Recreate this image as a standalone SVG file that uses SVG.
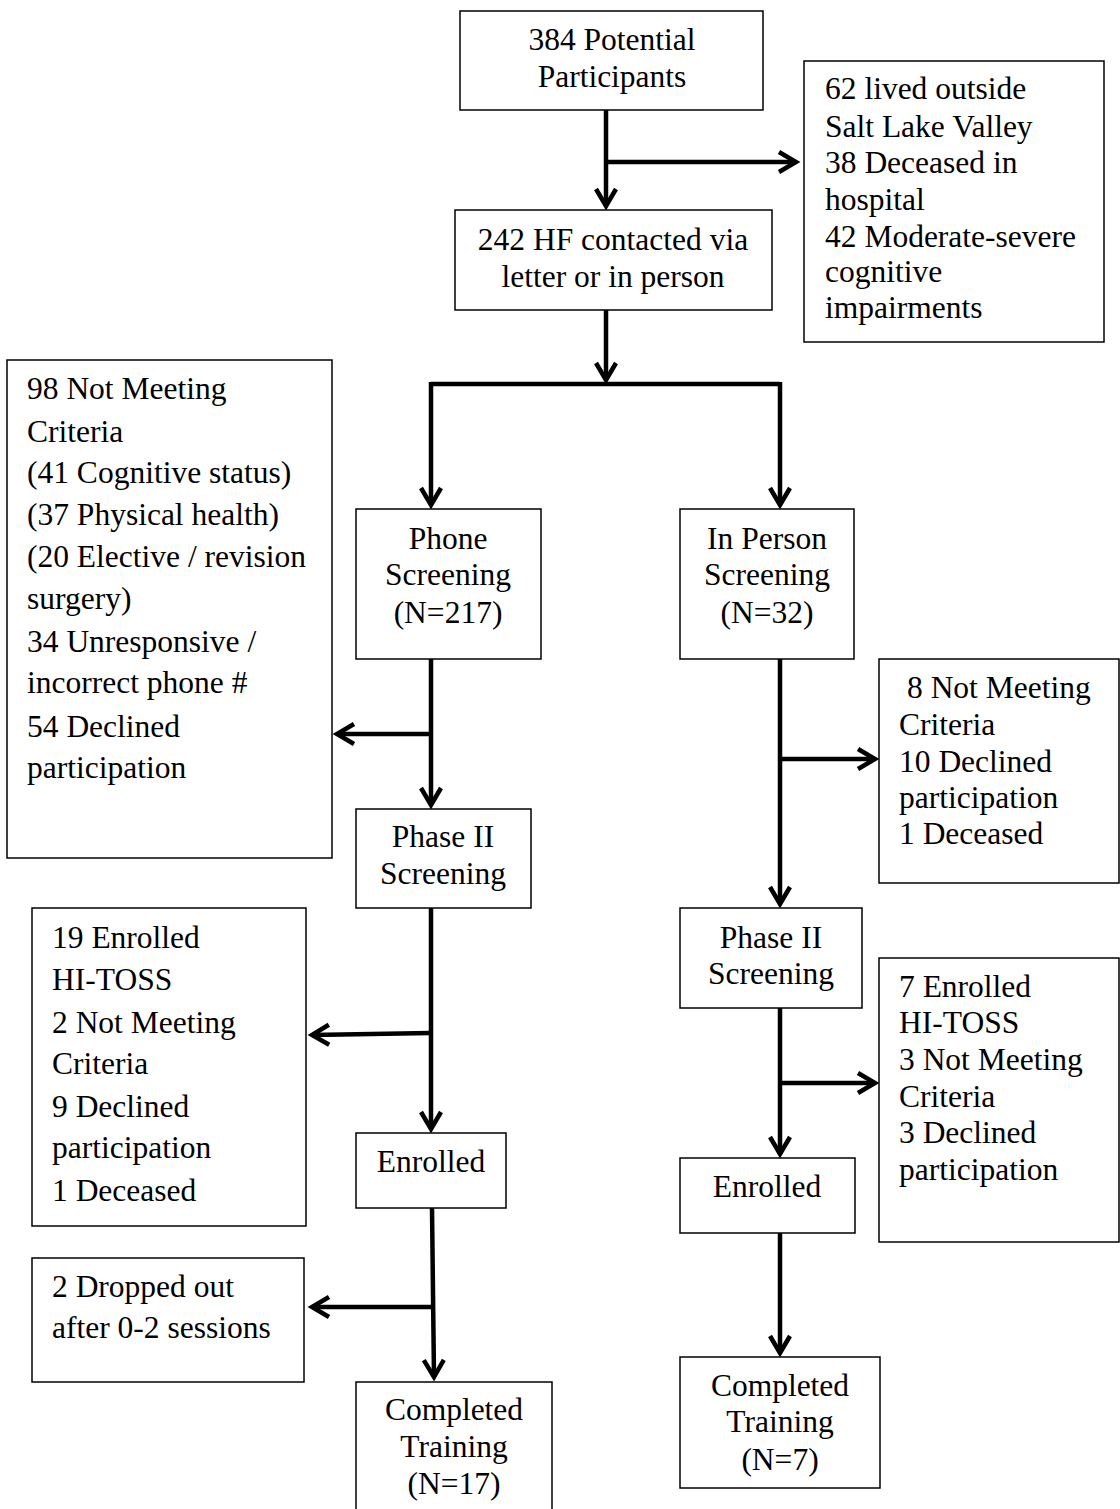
<svg xmlns="http://www.w3.org/2000/svg" width="1120" height="1509" viewBox="0 0 1120 1509">
<style>
  .box { fill: #fff; stroke: #000; stroke-width: 1.5; }
  text { font-family: "Liberation Serif", "Times New Roman", serif; font-size: 31.5px; fill: #000; }
  .c { text-anchor: middle; }
  .conn { fill: none; stroke: #000; stroke-width: 4.5; }
  .arr { marker-end: url(#ah); }
</style>
<defs>
  <marker id="ah" markerUnits="userSpaceOnUse" markerWidth="30" markerHeight="30" refX="0" refY="0" orient="auto" overflow="visible">
    <path d="M-17,-10 L0,0 L-17,10" fill="none" stroke="#000" stroke-width="4.5"/>
  </marker>
</defs>
<rect width="1120" height="1509" fill="#fff"/>

<g id="connectors">
  <path class="conn arr" d="M606,110 V206"/>
  <path class="conn arr" d="M606,162 H796"/>
  <path class="conn arr" d="M606,310 V380"/>
  <path class="conn" d="M431,384 H780"/>
  <path class="conn arr" d="M431,382 V505"/>
  <path class="conn arr" d="M780,382 V505"/>
  <path class="conn arr" d="M431,659 V805"/>
  <path class="conn arr" d="M431,734 H337"/>
  <path class="conn arr" d="M431,908 V1129"/>
  <path class="conn arr" d="M431,1033 L312,1035"/>
  <path class="conn arr" d="M432,1208 L434,1377"/>
  <path class="conn arr" d="M433,1307 H312"/>
  <path class="conn arr" d="M780,659 V904"/>
  <path class="conn arr" d="M780,759 H875"/>
  <path class="conn arr" d="M780,1008 V1154"/>
  <path class="conn arr" d="M780,1083 H875"/>
  <path class="conn arr" d="M780,1233 V1353"/>
</g>

<g id="potential">
  <rect class="box" x="460" y="11" width="303" height="99"/>
  <text class="c" x="612" y="50">384 Potential</text>
  <text class="c" x="612" y="87">Participants</text>
</g>

<g id="excluded-initial">
  <rect class="box" x="804" y="61" width="300" height="281"/>
  <text x="825" y="99">62 lived outside</text>
  <text x="825" y="137">Salt Lake Valley</text>
  <text x="825" y="173">38 Deceased in</text>
  <text x="825" y="210">hospital</text>
  <text x="825" y="247">42 Moderate-severe</text>
  <text x="825" y="282">cognitive</text>
  <text x="825" y="318">impairments</text>
</g>

<g id="contacted">
  <rect class="box" x="455" y="210" width="317" height="100"/>
  <text class="c" x="613" y="250">242 HF contacted via</text>
  <text class="c" x="613" y="287">letter or in person</text>
</g>

<g id="phone-excluded">
  <rect class="box" x="7" y="360" width="325" height="498"/>
  <text x="27" y="399">98 Not Meeting</text>
  <text x="27" y="442">Criteria</text>
  <text x="27" y="483">(41 Cognitive status)</text>
  <text x="27" y="525">(37 Physical health)</text>
  <text x="27" y="567">(20 Elective / revision</text>
  <text x="27" y="609">surgery)</text>
  <text x="27" y="652">34 Unresponsive /</text>
  <text x="27" y="693">incorrect phone #</text>
  <text x="27" y="737">54 Declined</text>
  <text x="27" y="778">participation</text>
</g>

<g id="phone-screening">
  <rect class="box" x="356" y="509" width="185" height="150"/>
  <text class="c" x="448" y="549">Phone</text>
  <text class="c" x="448" y="585">Screening</text>
  <text class="c" x="448" y="623">(N=217)</text>
</g>

<g id="inperson-screening">
  <rect class="box" x="680" y="509" width="174" height="150"/>
  <text class="c" x="767" y="549">In Person</text>
  <text class="c" x="767" y="585">Screening</text>
  <text class="c" x="767" y="623">(N=32)</text>
</g>

<g id="inperson-excluded">
  <rect class="box" x="879" y="659" width="240" height="224"/>
  <text x="907" y="698">8 Not Meeting</text>
  <text x="899" y="735">Criteria</text>
  <text x="899" y="772">10 Declined</text>
  <text x="899" y="808">participation</text>
  <text x="899" y="844">1 Deceased</text>
</g>

<g id="phase2-left">
  <rect class="box" x="356" y="809" width="175" height="99"/>
  <text class="c" x="443" y="847">Phase II</text>
  <text class="c" x="443" y="884">Screening</text>
</g>

<g id="phase2-right">
  <rect class="box" x="680" y="908" width="182" height="100"/>
  <text class="c" x="771" y="948">Phase II</text>
  <text class="c" x="771" y="984">Screening</text>
</g>

<g id="phase2-left-excluded">
  <rect class="box" x="32" y="908" width="274" height="318"/>
  <text x="52" y="948">19 Enrolled</text>
  <text x="52" y="990">HI-TOSS</text>
  <text x="52" y="1033">2 Not Meeting</text>
  <text x="52" y="1074">Criteria</text>
  <text x="52" y="1117">9 Declined</text>
  <text x="52" y="1158">participation</text>
  <text x="52" y="1201">1 Deceased</text>
</g>

<g id="phase2-right-excluded">
  <rect class="box" x="879" y="958" width="240" height="284"/>
  <text x="899" y="997">7 Enrolled</text>
  <text x="899" y="1033">HI-TOSS</text>
  <text x="899" y="1070">3 Not Meeting</text>
  <text x="899" y="1107">Criteria</text>
  <text x="899" y="1143">3 Declined</text>
  <text x="899" y="1180">participation</text>
</g>

<g id="enrolled-left">
  <rect class="box" x="356" y="1133" width="150" height="75"/>
  <text class="c" x="431" y="1172">Enrolled</text>
</g>

<g id="enrolled-right">
  <rect class="box" x="680" y="1158" width="175" height="75"/>
  <text class="c" x="767" y="1197">Enrolled</text>
</g>

<g id="dropped">
  <rect class="box" x="32" y="1258" width="272" height="124"/>
  <text x="52" y="1297">2 Dropped out</text>
  <text x="52" y="1338">after 0-2 sessions</text>
</g>

<g id="completed-left">
  <rect class="box" x="356" y="1382" width="196" height="140"/>
  <text class="c" x="454" y="1420">Completed</text>
  <text class="c" x="454" y="1457">Training</text>
  <text class="c" x="454" y="1494">(N=17)</text>
</g>

<g id="completed-right">
  <rect class="box" x="680" y="1357" width="200" height="131"/>
  <text class="c" x="780" y="1396">Completed</text>
  <text class="c" x="780" y="1432">Training</text>
  <text class="c" x="780" y="1470">(N=7)</text>
</g>
</svg>
